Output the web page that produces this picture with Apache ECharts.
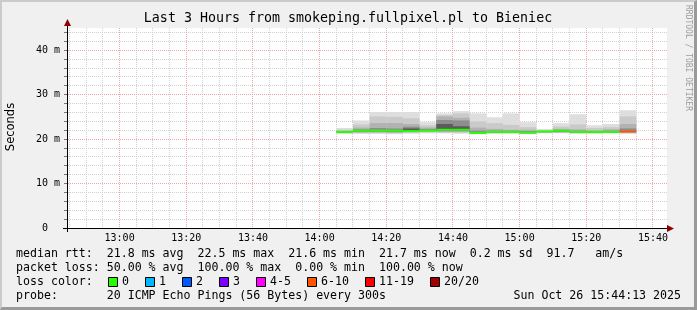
<!DOCTYPE html>
<html><head><meta charset="utf-8">
<script src="https://cdn.jsdelivr.net/npm/echarts@6/dist/echarts.min.js"></script>
<style>
html,body{margin:0;padding:0;background:#f0f0f0;}
#wrap{position:relative;width:697px;height:310px;background:#f0f0f0;overflow:hidden;}
#chart{position:absolute;left:0;top:0;width:697px;height:310px;}
#frame{position:absolute;left:0;top:0;width:697px;height:310px;box-sizing:border-box;border-top:2px solid #cbcbcb;border-left:2px solid #cbcbcb;border-right:3px solid #9a9a9a;border-bottom:3px solid #9a9a9a;pointer-events:none;}
</style></head>
<body><div id="wrap"><div id="chart"></div><div id="frame"></div></div>
<script>
// ---------------- data ----------------
const nowStamp = '15:44:13';
const rangeMinutes = 180;
const binMinutes = 5;
const binStarts = ['14:05','14:10','14:15','14:20','14:25','14:30','14:35','14:40','14:45',
                   '14:50','14:55','15:00','15:05','15:10','15:15','15:20','15:25','15:30'];
const medianRtt = [21.6,21.9,21.9,21.9,21.8,21.9,22.1,22.1,21.4,21.6,21.6,21.5,21.7,21.9,21.6,21.6,21.6,21.7];
const lossIndex = [0,0,0,0,0,0,0,0,0,0,0,0,0,0,0,0,0,5];
// smoke layers [low, high] in ms (outer = lightest)
const smokeOuter = [[21.2,22.5],[21.2,24.2],[21.2,26.1],[21.1,26.1],[21.2,26.1],[21.3,23.8],[21.3,25.8],[21.2,26.3],[21.1,25.8],
                    [21.2,24.9],[21.2,25.8],[21.1,23.8],[21.3,22.3],[21.3,23.6],[21.2,25.6],[21.2,23.1],[21.3,23.4],[21.2,26.5]];
const smokeMid   = [[21.3,22.1],[21.3,23.3],[21.3,25.1],[21.3,25.0],[21.4,24.7],[21.5,23.1],[21.4,25.4],[21.4,25.8],[21.2,24.0],
                    [21.3,23.6],[21.3,23.2],[21.2,22.7],[21.4,22.0],[21.4,22.8],[21.3,23.3],[21.3,22.5],[21.4,22.7],[21.3,25.1]];
const smokeInner = [[21.4,21.9],[21.5,22.6],[21.5,23.6],[21.4,23.6],[21.6,23.4],[21.7,22.6],[21.6,25.1],[21.6,24.8],[21.3,22.6],
                    [21.4,22.3],[21.4,22.1],[21.3,22.1],[21.5,21.9],[21.5,22.3],[21.4,22.2],[21.4,22.0],[21.5,22.2],[21.5,23.4]];
const smokeCore  = [null,[21.6,22.2],[21.6,22.5],[21.6,22.4],[21.8,22.8],[21.8,22.3],[21.8,24.3],[21.8,24.2],[21.3,21.9],
                    [21.5,21.9],[21.5,21.9],[21.3,21.8],null,[21.6,22.0],[21.5,21.9],[21.5,21.8],[21.6,21.9],[21.6,22.4]];
const smokeDark  = [null,null,null,null,[21.9,22.4],null,[22.0,23.4],[22.0,22.9],null,
                    null,null,null,null,null,null,null,null,null];
const lossLabels = ['0','1','2','3','4-5','6-10','11-19','20/20'];
const lossColors = ['#26ff00','#00b8ff','#0059ff','#7e00ff','#ff00ff','#ff5500','#ff0000','#a10000'];
const yLabelTicks = [0,10,20,30,40];
const yMajorLines = [10,20,30,40];
const yMinorTicks = [2,4,6,8,12,14,16,18,22,24,26,28,32,34,36,38,42,44];
const xMajorTicks = ['13:00','13:20','13:40','14:00','14:20','14:40','15:00','15:20','15:40'];
const xMinorTicks = ['12:45','12:50','12:55','13:05','13:10','13:15','13:25','13:30','13:35',
                     '13:45','13:50','13:55','14:05','14:10','14:15','14:25','14:30','14:35',
                     '14:45','14:50','14:55','15:05','15:10','15:15','15:25','15:30','15:35'];
const titleText = 'Last 3 Hours from smokeping.fullpixel.pl to Bieniec';
const rttLine = 'median rtt:  21.8 ms avg  22.5 ms max  21.6 ms min  21.7 ms now  0.2 ms sd  91.7   am/s';
const lossLine = 'packet loss: 50.00 % avg  100.00 % max  0.00 % min  100.00 % now';
const probeLine = 'probe:       20 ICMP Echo Pings (56 Bytes) every 300s';
const dateText = 'Sun Oct 26 15:44:13 2025';

// ---------------- helpers ----------------
const toMin = s => { const p = s.split(':').map(Number); return p[0]*60 + p[1] + (p[2] || 0)/60; };
const fmt = v => { const t = Math.round(v); return String(Math.floor(t/60)).padStart(2,'0') + ':' + String(t%60).padStart(2,'0'); };
const xMax = toMin(nowStamp);
const xMin = xMax - rangeMinutes;
const MONO = '"DejaVu Sans Mono", monospace';

function smokeSeries(pairs, color) {
  const data = [];
  pairs.forEach((p, i) => { if (p) data.push([toMin(binStarts[i]), toMin(binStarts[i]) + binMinutes, p[0], p[1]]); });
  return {
    type: 'custom', xAxisIndex: 0, yAxisIndex: 0, silent: true, z: 3, data,
    encode: { x: [0, 1], y: [2, 3] },
    renderItem: (params, api) => {
      const a = api.coord([api.value(0), api.value(3)]);
      const b = api.coord([api.value(1), api.value(2)]);
      return { type: 'rect', shape: { x: a[0], y: a[1], width: b[0] - a[0], height: b[1] - a[1] }, style: { fill: color } };
    }
  };
}

// grid lines drawn through the axis scales
function gridSeries(values, dir, color, z) {
  return {
    type: 'custom', xAxisIndex: 0, yAxisIndex: 0, silent: true, z, clip: false,
    data: values.map(v => [v]),
    encode: dir === 'x' ? { x: 0 } : { y: 0 },
    renderItem: (params, api) => {
      const cs = params.coordSys;
      if (dir === 'x') {
        const px = Math.floor(api.coord([api.value(0), 0])[0]) + 0.5;
        return { type: 'line', shape: { x1: px, y1: cs.y, x2: px, y2: cs.y + cs.height }, style: { stroke: color, lineWidth: 1, lineDash: [1, 1] } };
      }
      const py = Math.floor(api.coord([xMin, api.value(0)])[1]) + 0.5;
      return { type: 'group', children: [
        { type: 'line', shape: { x1: cs.x + 1, y1: py, x2: cs.x + cs.width, y2: py }, style: { stroke: color, lineWidth: 1, lineDash: [1, 1] } },
        { type: 'line', shape: { x1: cs.x - 3, y1: py, x2: cs.x, y2: py }, style: { stroke: '#777', lineWidth: 1 } }
      ] };
    }
  };
}

const medianData = medianRtt.map((m, i) => [toMin(binStarts[i]), toMin(binStarts[i]) + binMinutes, m, lossIndex[i]]);

// legend graphics
const graphics = [];
const txt = (x, y, text, extra) => Object.assign({ type: 'text', x, y, silent: true,
  style: Object.assign({ text, font: '11.6px ' + MONO, fill: '#000', textVerticalAlign: 'middle' }, extra || {}) });
graphics.push({ type: 'text', x: 348, y: 19, silent: true, style: { text: titleText, font: '13.3px ' + MONO, fill: '#000', textAlign: 'center', textVerticalAlign: 'middle' } });
graphics.push({ type: 'text', x: 11, y: 127, rotation: Math.PI/2, silent: true, style: { text: 'Seconds', font: '11.5px "DejaVu Sans", sans-serif', fill: '#000', textAlign: 'center', textVerticalAlign: 'middle' } });
graphics.push({ type: 'text', x: 688, y: 5, rotation: -Math.PI/2, silent: true, style: { text: 'RRDTOOL / TOBI OETIKER', font: '8px ' + MONO, fill: '#9c9c9c', textAlign: 'left', textVerticalAlign: 'middle' } });
graphics.push(txt(16, 254, rttLine));
graphics.push(txt(16, 268, lossLine));
graphics.push(txt(16, 282, 'loss color:'));
graphics.push(txt(16, 296, probeLine));
graphics.push(txt(681, 296, dateText, { textAlign: 'right' }));
let lx = 108;
lossLabels.forEach((lab, i) => {
  graphics.push({ type: 'rect', silent: true, shape: { x: lx + 0.5, y: 277.5, width: 9, height: 9 }, style: { fill: lossColors[i], stroke: '#000', lineWidth: 1 } });
  graphics.push(txt(lx + 14, 282, lab));
  lx = lx + 14 + 7 * lab.length + 16;
});
// axis lines with arrows
graphics.push({ type: 'line', silent: true, z: 100, shape: { x1: 63, y1: 228.5, x2: 669, y2: 228.5 }, style: { stroke: '#000', lineWidth: 1 } });
graphics.push({ type: 'polygon', silent: true, z: 100, shape: { points: [[667, 225], [674, 228.5], [667, 232]] }, style: { fill: '#8b0000' } });
graphics.push({ type: 'line', silent: true, z: 100, shape: { x1: 67.5, y1: 232, x2: 67.5, y2: 25 }, style: { stroke: '#000', lineWidth: 1 } });
graphics.push({ type: 'polygon', silent: true, z: 100, shape: { points: [[64, 26], [67.5, 19], [71, 26]] }, style: { fill: '#8b0000' } });

const MINOR = '#d0d0d0', MAJOR = '#f2a6a6';

const option = {
  animation: false,
  backgroundColor: 'transparent',
  grid: { left: 67, right: 30, top: 28, bottom: 82, show: true, backgroundColor: '#ffffff', borderWidth: 0, containLabel: false, outerBoundsMode: 'none' },
  xAxis: { type: 'value', min: xMin, max: xMax, position: 'bottom',
      axisLine: { show: false }, axisTick: { show: false }, splitLine: { show: false },
      axisLabel: { show: true, customValues: xMajorTicks.map(toMin), formatter: v => fmt(v), margin: 5,
                   fontFamily: 'DejaVu Sans Mono', fontSize: 10, color: '#000' } },
  yAxis: { type: 'value', min: 0, max: 45, position: 'left',
      axisLine: { show: false }, axisTick: { show: false }, splitLine: { show: false },
      axisLabel: { show: true, customValues: yLabelTicks, margin: 7, formatter: v => v === 0 ? '0  ' : v + ' m',
                   fontFamily: 'DejaVu Sans Mono', fontSize: 10, color: '#000' } },
  series: [
    gridSeries(xMinorTicks.map(toMin), 'x', MINOR, 1),
    gridSeries(yMinorTicks, 'y', MINOR, 1),
    gridSeries(xMajorTicks.map(toMin), 'x', MAJOR, 2),
    gridSeries(yMajorLines, 'y', MAJOR, 2),
    smokeSeries(smokeOuter, '#dedede'),
    smokeSeries(smokeMid, '#cacaca'),
    smokeSeries(smokeInner, '#b2b2b2'),
    smokeSeries(smokeCore, '#8e8e8e'),
    smokeSeries(smokeDark, '#5c5c5c'),
    { type: 'custom', xAxisIndex: 0, yAxisIndex: 0, silent: true, z: 4, data: medianData,
      encode: { x: [0, 1], y: 2 },
      renderItem: (params, api) => {
        const a = api.coord([api.value(0), api.value(2)]);
        const b = api.coord([api.value(1), api.value(2)]);
        return { type: 'rect', shape: { x: a[0], y: a[1] - 1, width: b[0] - a[0], height: 2 }, style: { fill: lossColors[api.value(3)] } };
      } }
  ],
  graphic: graphics
};
const chart = echarts.init(document.getElementById('chart'), null, { renderer: 'canvas' });
chart.setOption(option);
</script>
</body></html>
